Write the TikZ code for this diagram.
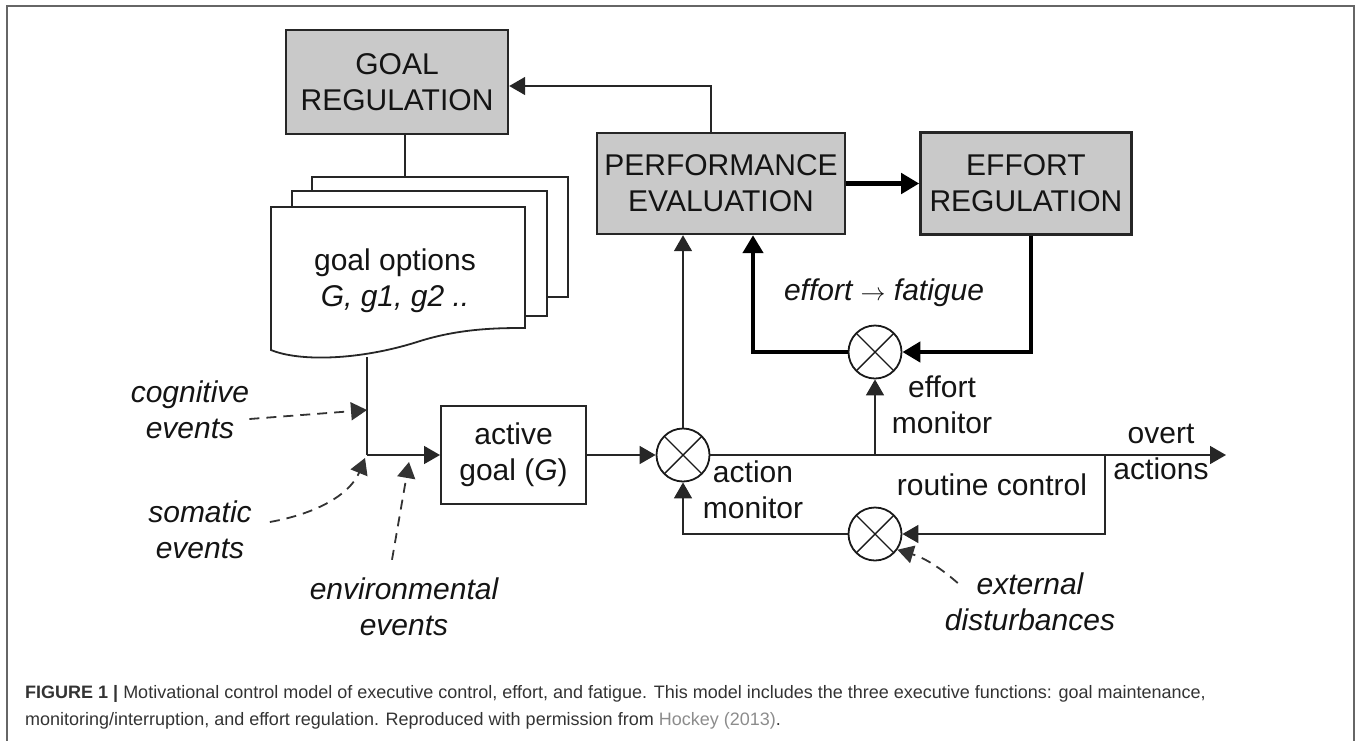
\documentclass[tikz,border=0pt]{standalone}
\usepackage{fontspec}
\setmainfont{Liberation Sans}
\usetikzlibrary{positioning,arrows.meta}

\begin{document}
\begin{tikzpicture}[x=1pt, y=-1pt,
    every node/.style={font=\fontsize{30}{36}\selectfont, align=center, text=black!92},
    graybox/.style={rectangle, draw=black!85, fill=black!21, line width=2.4pt},
    plainbox/.style={rectangle, draw=black!85, line width=2pt},
    mixer/.style={circle, draw=black!90, line width=1.8pt, minimum size=53pt, inner sep=0pt,
        path picture={\draw[line width=1.4pt] (path picture bounding box.north west) -- (path picture bounding box.south east)
            (path picture bounding box.north east) -- (path picture bounding box.south west);}},
    lbl/.style={inner sep=2pt},
    evlbl/.style={inner sep=2pt, font=\fontsize{30}{36}\selectfont\itshape},
    page/.style={draw=black!85, fill=white, line width=1.8pt},
    line/.style={draw=black!85, line width=1.6pt},
    arr/.style={line, -{Triangle[length=16pt,width=18pt]}},
    thickarr/.style={draw=black, line width=4.5pt, -{Triangle[length=18pt,width=20pt]}},
    darr/.style={draw=black!80, line width=1.8pt, dash pattern=on 10pt off 7pt, -{Triangle[length=16pt,width=18pt]}}]

    \useasboundingbox (0,0) rectangle (1357,740);
    \draw[black!60, line width=1.6pt] (7,6) rectangle (1354,760);

    % Regulation and evaluation boxes
    \node (goalreg) [graybox, minimum width=222pt, minimum height=104pt] at (397,82) {GOAL\\REGULATION};
    \node (perf) [graybox, minimum width=248pt, minimum height=101pt] at (721,183.5) {PERFORMANCE\\EVALUATION};
    \node (effort) [graybox, minimum width=211pt, minimum height=102pt, right=73pt of perf] {EFFORT\\REGULATION};

    % Stack of goal option pages
    \draw[page] (312,177) rectangle (568,297);
    \draw[page] (292,191) rectangle (547,316);
    \draw[page] (271,207) -- (525,207) -- (525,328) .. controls (500,328) and (460,328) .. (417,342)
        .. controls (360,360) and (300,362) .. (271,350) -- cycle;
    \node (goalopts) [lbl] at (395,281) {goal options\\{\itshape G, g1, g2 ..}};

    \node (active) [plainbox, minimum width=145pt, minimum height=98pt] at (513.5,455) {active\\goal (\textit{G})};

    % Comparators
    \node (amon) [mixer] at (683,455) {};
    \node (emon) [mixer] at (875,352) {};
    \node (rmon) [mixer] at (875,534) {};

    % Labels
    \node (amonlbl) [lbl] at (753,490) {action\\monitor};
    \node (emonlbl) [lbl] at (942,405) {effort\\monitor};
    \node (fatigue) [evlbl] at (884,293) {effort $\rightarrow$ fatigue};
    \node (routine) [lbl] at (992,485) {routine control};
    \node (overtlbl) [lbl] at (1161,452) {overt\\actions};
    \node (extd) [evlbl] at (1030,602) {external\\disturbances};
    \node (cogev) [evlbl] at (190,410) {cognitive\\events};
    \node (somev) [evlbl] at (200,530) {somatic\\events};
    \node (envev) [evlbl] at (404,607) {environmental\\events};

    \coordinate (backtop) at (405,177);
    \coordinate (optout) at (367,357);
    \coordinate (junc) at (367,455);
    \coordinate (cogin) at (367,410);
    \coordinate (somin) at (365,458);
    \coordinate (envin) at (409,462);
    \coordinate (split) at (1105,455);
    \coordinate (overt) at (1226,455);

    % Goal loop
    \draw[line] (goalreg.south -| backtop) -- (backtop);
    \draw[arr] ([xshift=-10pt]perf.north) |- ([yshift=-4pt]goalreg.east);
    \draw[line] (optout) -- (junc);
    \draw[arr] (junc) -- (active.west);
    \draw[arr] (active.east) -- (amon.west);

    % Effort loop
    \draw[thickarr] (perf.east) -- (effort.west);
    \draw[thickarr] ([xshift=5pt]effort.south) |- (emon.east);
    \draw[thickarr] (emon.west) -| ([xshift=32pt]perf.south);
    \draw[arr] (amon.north) -- (amon.north |- perf.south);

    % Action line and routine control
    \draw[arr] (amon.east) -- (overt);
    \draw[arr] (emon.south |- amon.east) -- (emon.south);
    \draw[arr] (split) |- (rmon.east);
    \draw[arr] (rmon.west) -| (amon.south);

    % Events and disturbances
    \draw[darr] ([xshift=-2pt,yshift=-9pt]cogev.east) -- (cogin);
    \draw[darr] ([xshift=16pt,yshift=8pt]somev.east) .. controls (325,512) and (352,490) .. (somin);
    \draw[darr] ([xshift=-12pt,yshift=16pt]envev.north) -- (envin);
    \draw[darr] ([xshift=15pt,yshift=19pt]extd.west) to[bend right=12] (rmon.-35);

    % Caption
    \node (caption) [anchor=west, align=left, inner sep=0pt, text=black!80, font=\fontsize{18}{27}\selectfont] at (25,707)
        {\textbf{FIGURE 1 |} Motivational control model of executive control, effort, and fatigue. This model includes the three executive functions: goal maintenance,\\
        monitoring/interruption, and effort regulation. Reproduced with permission from \textcolor{black!45}{Hockey (2013)}.};
\end{tikzpicture}
\end{document}
